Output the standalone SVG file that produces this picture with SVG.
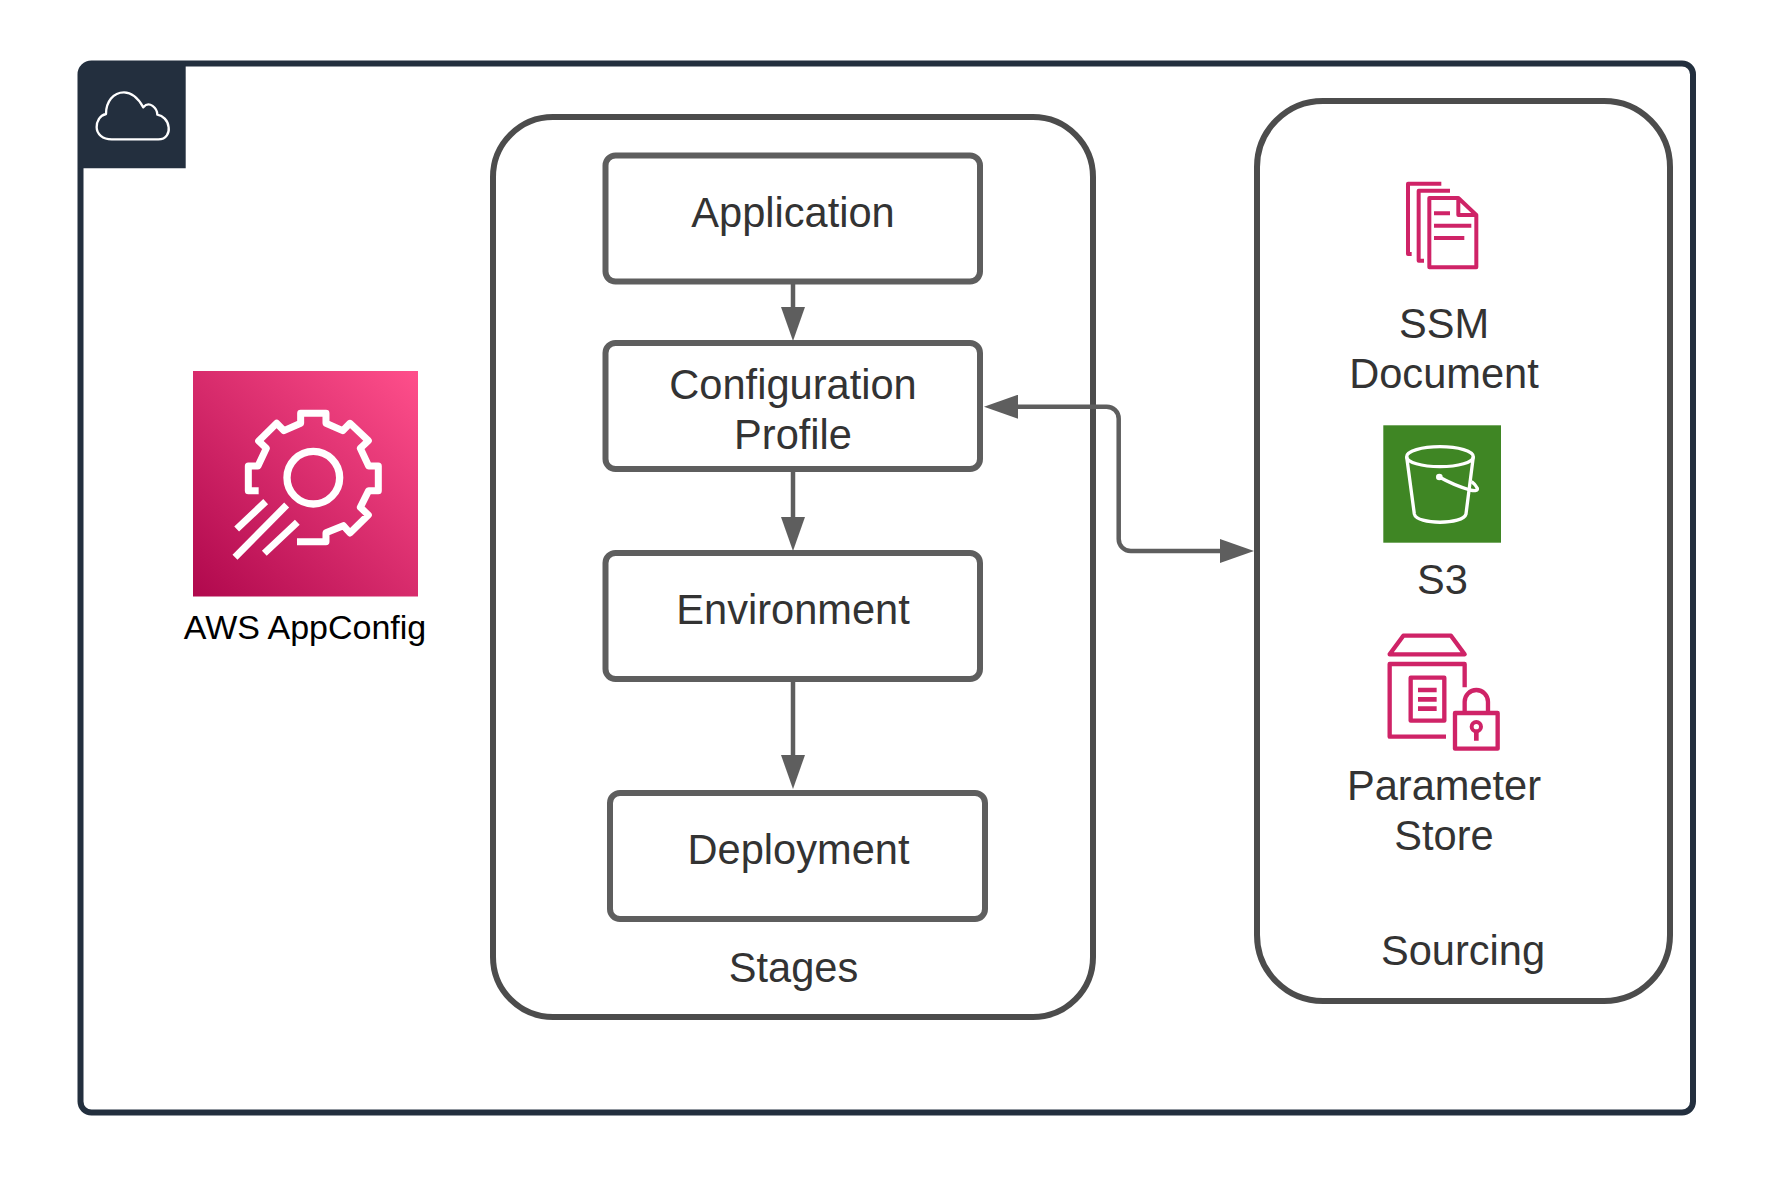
<svg xmlns="http://www.w3.org/2000/svg" width="1778" height="1191" viewBox="0 0 1778 1191">
<style>
text{font-family:"Liberation Sans",Arial,sans-serif;font-size:41.6px;fill:#333;text-anchor:middle}
.box{fill:#fff;stroke:#5e5e5e;stroke-width:6}
.cont{fill:#fff;stroke:#4c4c4c;stroke-width:6}
.ln{fill:none;stroke:#5e5e5e;stroke-width:4.5;marker-end:url(#ah)}
.pk{fill:none;stroke:#cf2367;stroke-linejoin:round;stroke-linecap:butt}
.wh{fill:none;stroke:#fff;stroke-linejoin:round}
</style>
<defs>
<marker id="ah" markerUnits="userSpaceOnUse" markerWidth="34" markerHeight="24" refX="0" refY="12" orient="auto-start-reverse"><path d="M0 0L34 12L0 24Z" fill="#5e5e5e"/></marker>
<linearGradient id="ac" x1="0" y1="1" x2="1" y2="0"><stop offset="0" stop-color="#b0084d"/><stop offset="1" stop-color="#ff4f8b"/></linearGradient>
</defs>
<rect width="1778" height="1191" fill="#fff"/>
<g id="aws-cloud">
<rect x="80.5" y="63.5" width="1612.500" height="1049" rx="11" fill="#fff" stroke="#232f3e" stroke-width="6"/>
<path d="M78 168.300V77a16 16 0 0 1 16-16H185.700V168.300Z" fill="#232f3e"/>
<g transform="translate(60 50) scale(.3333)"><path class="wh" stroke-width="7" d="M155 268H295C320 268 328 248 326 232C324 210 308 197 292 194C292 175 268 150 250 172C235 145 215 127 192 127C160 127 138 155 138 192C118 197 110 215 110 232C110 252 128 268 155 268Z"/></g>
</g>
<g id="appconfig">
<rect x="193" y="371" width="225" height="225.500" fill="url(#ac)"/>
<g transform="translate(170 360) scale(.3333)">
<path class="wh" stroke-width="21" d="M381 545H468V518L520 497L540 519L595 465L571 442L596 392H625V318H596L571 265L595 242L540 190L518 212L468 190V160H392V190L342 212L320 190L266 243L289 265L264 318H235V392H266"/>
<circle class="wh" cx="430" cy="353" r="79" stroke-width="22"/>
<path class="wh" stroke-width="21" d="M200 507L287 425M195 592L350 435M283 580L382 487"/>
</g>
<text x="305" y="639" style="font-size:34px;fill:#000">AWS AppConfig</text>
</g>
<g id="stages">
<rect class="cont" x="493" y="117" width="600" height="900" rx="60"/>
<text x="793.500" y="982">Stages</text>
</g>
<g id="sourcing">
<rect class="cont" x="1257" y="101" width="413" height="900" rx="66"/>
<text x="1463" y="965">Sourcing</text>
</g>
<g id="application"><rect class="box" x="605.500" y="155.500" width="374.500" height="126" rx="10"/><text x="793" y="227">Application</text></g>
<g id="configuration-profile"><rect class="box" x="605.500" y="343" width="374.500" height="126" rx="10"/><text x="793" y="399">Configuration</text><text x="793" y="449">Profile</text></g>
<g id="environment"><rect class="box" x="605.500" y="553" width="374.500" height="126" rx="10"/><text x="793" y="624">Environment</text></g>
<g id="deployment"><rect class="box" x="610" y="793" width="375" height="126" rx="10"/><text x="798.500" y="864">Deployment</text></g>
<g id="ssm-document">
<g transform="translate(1360 160) scale(.3333)">
<path class="pk" stroke-width="12" d="M208 322V114H295L349 165V322ZM295 114V165H349M222 160H270M222 197H334M222 234H313M244 71H144V282H155M270 92H176V302H192"/>
</g>
<text x="1444" y="338">SSM</text><text x="1444" y="388">Document</text>
</g>
<g id="s3">
<rect x="1383.300" y="425.300" width="117.700" height="117.400" fill="#3f8624"/>
<g transform="translate(1360 410) scale(.3333)">
<ellipse class="wh" cx="240" cy="140" rx="100" ry="30" stroke-width="10"/>
<path class="wh" stroke-width="10" d="M140 140L163 312C170 345 310 345 318 312L340 140"/>
<circle cx="238" cy="201" r="10" fill="#fff"/>
<path class="wh" stroke-width="10" d="M238 201Q280 225 330 240Q355 245 352 235Q345 222 335 215"/>
</g>
<text x="1442.500" y="594">S3</text>
</g>
<g id="parameter-store">
<g transform="translate(1370 620) scale(.3333)">
<path class="pk" stroke-width="13" d="M100 47H243L284 103H59ZM228 350H59V132H284V202M122 173H223V302H122ZM255 279H383V386H255ZM284 279V245A35 35 0 0 1 354 245V279"/>
<path class="pk" stroke-width="14" d="M144 210H200M144 238H200M144 266H200M319 335V362"/>
<circle class="pk" cx="319" cy="320" r="14" stroke-width="12"/>
</g>
<text x="1444" y="799.500">Parameter</text><text x="1444" y="849.500">Store</text>
</g>
<g id="connectors">
<path class="ln" d="M793 284V307"/>
<path class="ln" d="M793 472V517"/>
<path class="ln" d="M793 682V755"/>
<path class="ln" style="marker-start:url(#ah)" d="M1018 406.700H1106.700a12 12 0 0 1 12 12V539a12 12 0 0 0 12 12H1220"/>
</g>
</svg>
